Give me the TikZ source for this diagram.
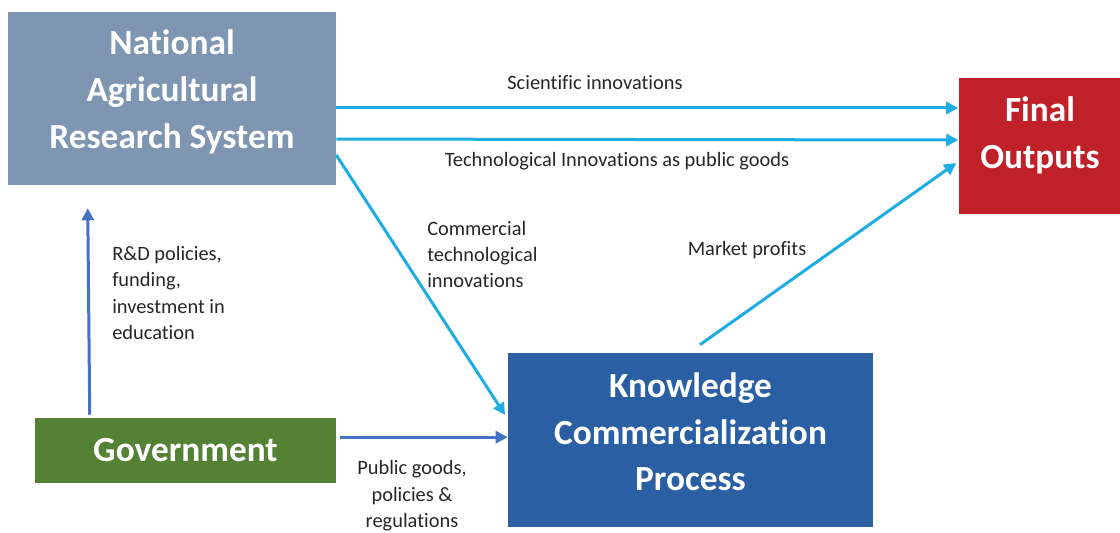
\documentclass[tikz,border=0pt]{standalone}
\usepackage{fontspec}
\setmainfont{Carlito}[Ligatures=NoCommon]
\usetikzlibrary{arrows.meta}
\definecolor{narsgray}{RGB}{127,150,178}
\definecolor{outred}{RGB}{192,32,40}
\definecolor{govgreen}{RGB}{84,130,53}
\definecolor{kcpblue}{RGB}{42,95,163}
\definecolor{lightflow}{RGB}{30,172,228}
\definecolor{darkflow}{RGB}{68,114,196}
\tikzstyle{box}=[inner sep=0pt, text=white, align=center, font=\fontsize{26.5}{35}\selectfont\bfseries]
\tikzstyle{title}=[text=white, align=center, font=\fontsize{26.5}{35}\selectfont\bfseries]
\tikzstyle{flow}=[line width=2.25pt, draw=lightflow, -{Triangle[length=9pt,width=9pt]}]
\tikzstyle{policy}=[flow, draw=darkflow]
\tikzstyle{note}=[inner sep=0pt, text=black!85, font=\fontsize{15.3}{19.8}\selectfont]

\begin{document}
\begin{tikzpicture}[x=0.75pt, y=-0.75pt]
        \useasboundingbox (0,0) rectangle (1120,532);
        \node[box, fill=narsgray, minimum width=246pt, minimum height=129.75pt,
              label={[title, yshift=5pt]center:{National\\Agricultural\\Research System}}] (nars) at (172,98.5) {};
        \node[box, fill=outred, minimum width=122.25pt, minimum height=102pt,
              label={[title, yshift=8pt]center:{Final\\Outputs}}] (final) at (1040,146) {};
        \node[box, fill=govgreen, minimum width=225.75pt, minimum height=48.75pt] (gov) at (185.5,450.5) {Government};
        \node[box, fill=kcpblue, minimum width=273.75pt, minimum height=130.5pt,
              label={[title, yshift=6pt]center:{Knowledge\\Commercialization\\Process}}] (kcp) at (690.5,440) {};
        % flows
        \draw[flow] ([yshift=-7.1pt]nars.east) -- ([yshift=-7.1pt]nars.east -| final.west);
        \draw[flow] ([yshift=-30.4pt]nars.east) -- ([yshift=4.5pt]final.west);
        \draw[flow] ([yshift=-42.4pt]nars.east) -- ([xshift=-2pt, yshift=18.75pt]kcp.west);
        \draw[flow] ([xshift=7.1pt, yshift=6pt]kcp.north) -- ([xshift=-1.5pt, yshift=-12.75pt]final.west);
        \draw[policy] ([xshift=3pt, yshift=10pt]gov.east) -- ([yshift=10pt]gov.east -| kcp.west);
        \draw[policy] ([xshift=41.25pt, yshift=2.25pt]gov.north west) -- ([xshift=60pt, yshift=-17.25pt]nars.south west);
        % labels
        \node[note] (sci) at (595,83) {Scientific innovations};
        \node[note] (tech) at (617,161) {Technological Innovations as public goods};
        \node[note, anchor=west, align=left] (comm) at (427,254.5) {Commercial\\technological\\innovations};
        \node[note] (profit) at (747,250) {Market profits};
        \node[note, anchor=west, align=left] (rnd) at (112,293) {R\&D policies,\\funding,\\investment in\\education};
        \node[note, align=center] (pub) at (412,496) {Public goods,\\policies \&\\regulations};
    \end{tikzpicture}
\end{document}
